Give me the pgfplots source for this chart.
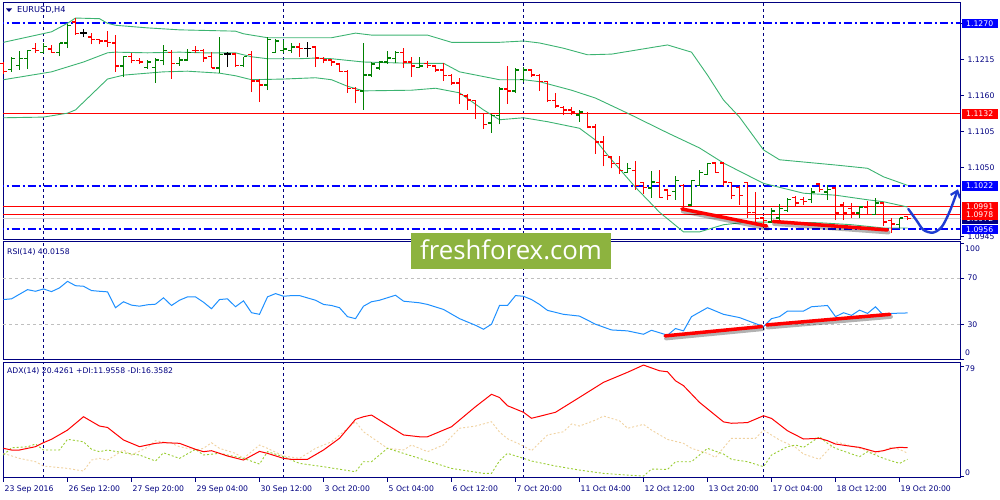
\documentclass[border=0pt]{standalone}
\usepackage{fontspec}
\setmainfont{DejaVu Sans}
\newfontfamily\wmfont{Open Sans}
\usepackage{graphicx}
\usepackage{pgfplots}
\usepackage{pgfplotstable}
\pgfplotsset{compat=1.18}
\usetikzlibrary{arrows.meta}

\definecolor{navy}{RGB}{0,0,128}
\definecolor{mtblue}{RGB}{0,0,255}
\definecolor{bbgreen}{RGB}{60,179,113}
\definecolor{barred}{RGB}{255,0,0}
\definecolor{bargreen}{RGB}{0,128,0}
\definecolor{rsiblue}{RGB}{30,144,255}
\definecolor{pdi}{RGB}{154,205,50}
\definecolor{mdi}{RGB}{240,210,160}
\definecolor{wm}{RGB}{141,179,63}
\definecolor{arrowblue}{RGB}{30,60,210}

% open tick to the left, close tick to the right
\pgfdeclareplotmark{otick}{\pgfpathmoveto{\pgfqpoint{-3.5pt}{0pt}}\pgfpathlineto{\pgfqpoint{0pt}{0pt}}\pgfusepathqstroke}
\pgfdeclareplotmark{ctick}{\pgfpathmoveto{\pgfqpoint{0pt}{0pt}}\pgfpathlineto{\pgfqpoint{3.5pt}{0pt}}\pgfusepathqstroke}

% EURUSD H4 bars, split by direction
\pgfplotstableread{
x o h l c
0 1.1209 1.1211 1.1193 1.1196
4 1.1232 1.1240 1.1225 1.1229
6 1.1231 1.1237 1.1225 1.1226
9 1.1272 1.1278 1.1252 1.1254
11 1.1249 1.1255 1.1238 1.1245
12 1.1245 1.1246 1.1238 1.1243
13 1.1243 1.1258 1.1234 1.1241
14 1.1240 1.1252 1.1196 1.1205
16 1.1219 1.1225 1.1209 1.1213
17 1.1213 1.1217 1.1208 1.1211
21 1.1225 1.1229 1.1185 1.1209
24 1.1229 1.1235 1.1225 1.1228
25 1.1228 1.1231 1.1211 1.1217
26 1.1219 1.1226 1.1202 1.1202
29 1.1223 1.1225 1.1203 1.1206
31 1.1222 1.1228 1.1165 1.1182
32 1.1182 1.1185 1.1150 1.1176
37 1.1234 1.1240 1.1219 1.1232
39 1.1234 1.1234 1.1203 1.1217
40 1.1216 1.1219 1.1209 1.1214
41 1.1214 1.1216 1.1205 1.1211
42 1.1208 1.1209 1.1196 1.1197
43 1.1197 1.1199 1.1164 1.1171
44 1.1171 1.1173 1.1148 1.1168
50 1.1226 1.1232 1.1202 1.1211
51 1.1211 1.1219 1.1188 1.1205
53 1.1209 1.1213 1.1202 1.1206
54 1.1205 1.1206 1.1196 1.1199
55 1.1199 1.1209 1.1182 1.1190
56 1.1190 1.1193 1.1176 1.1179
57 1.1179 1.1187 1.1147 1.1161
58 1.1159 1.1162 1.1138 1.1153
59 1.1152 1.1152 1.1124 1.1132
60 1.1132 1.1133 1.1109 1.1116
63 1.1170 1.1205 1.1147 1.1167
66 1.1199 1.1199 1.1188 1.1191
67 1.1190 1.1193 1.1167 1.1181
68 1.1181 1.1181 1.1150 1.1152
69 1.1152 1.1164 1.1141 1.1144
70 1.1142 1.1144 1.1130 1.1138
71 1.1138 1.1142 1.1130 1.1135
73 1.1133 1.1135 1.1110 1.1112
74 1.1112 1.1116 1.1071 1.1089
75 1.1089 1.1098 1.1052 1.1068
76 1.1066 1.1068 1.1049 1.1056
77 1.1056 1.1068 1.1040 1.1046
79 1.1046 1.1060 1.1016 1.1023
80 1.1027 1.1028 1.1010 1.1020
82 1.1027 1.1046 1.1004 1.1005
83 1.1016 1.1017 1.1001 1.1008
85 1.1023 1.1025 1.0985 1.0987
89 1.1057 1.1057 1.1042 1.1043
90 1.1057 1.1057 1.1022 1.1028
91 1.1027 1.1028 1.1002 1.1008
92 1.1020 1.1022 1.0993 1.1008
93 1.1027 1.1028 1.0973 1.0982
94 1.0982 1.1013 1.0966 1.0972
95 1.0973 1.0973 1.0963 1.0969
99 1.1004 1.1007 1.0990 1.0996
100 1.1001 1.1005 1.0993 1.0998
102 1.1025 1.1027 1.1013 1.1017
104 1.1019 1.1020 1.0970 1.0981
105 1.0993 1.0998 1.0970 1.0981
106 1.0988 1.0996 1.0973 1.0981
108 1.0990 1.0999 1.0978 1.0979
110 1.0996 1.0998 1.0961 1.0967
111 1.0969 1.0973 1.0950 1.0964
113 1.0975 1.0975 1.0970 1.0972
}\barsdown

\pgfplotstableread{
x o h l c
1 1.1200 1.1219 1.1196 1.1216
2 1.1206 1.1228 1.1199 1.1216
3 1.1216 1.1229 1.1200 1.1228
5 1.1226 1.1240 1.1225 1.1235
7 1.1226 1.1240 1.1220 1.1240
8 1.1240 1.1269 1.1232 1.1267
15 1.1205 1.1220 1.1188 1.1219
18 1.1203 1.1214 1.1200 1.1211
19 1.1203 1.1217 1.1179 1.1214
20 1.1213 1.1237 1.1206 1.1229
22 1.1209 1.1219 1.1205 1.1214
23 1.1214 1.1231 1.1214 1.1226
27 1.1202 1.1249 1.1194 1.1222
30 1.1206 1.1219 1.1203 1.1219
33 1.1176 1.1249 1.1168 1.1245
34 1.1226 1.1246 1.1225 1.1243
35 1.1229 1.1245 1.1225 1.1231
36 1.1229 1.1240 1.1225 1.1234
45 1.1167 1.1240 1.1138 1.1191
46 1.1191 1.1211 1.1188 1.1208
47 1.1202 1.1213 1.1199 1.1211
48 1.1211 1.1228 1.1208 1.1217
49 1.1216 1.1228 1.1209 1.1226
52 1.1203 1.1219 1.1202 1.1205
61 1.1118 1.1132 1.1103 1.1129
62 1.1129 1.1173 1.1116 1.1170
64 1.1167 1.1202 1.1164 1.1199
65 1.1184 1.1203 1.1181 1.1199
72 1.1130 1.1138 1.1120 1.1135
78 1.1043 1.1057 1.1043 1.1049
81 1.1019 1.1045 1.1004 1.1028
84 1.1014 1.1037 1.1001 1.1030
86 1.0993 1.1031 1.0992 1.1030
87 1.1023 1.1046 1.1022 1.1043
88 1.1040 1.1057 1.1039 1.1056
96 1.0967 1.0988 1.0966 1.0984
97 1.0973 1.0995 1.0970 1.0988
98 1.0985 1.1004 1.0982 1.1001
101 1.1001 1.1019 1.0996 1.1013
103 1.1013 1.1023 1.1001 1.1017
107 1.0981 1.0992 1.0973 1.0990
109 1.0979 1.1004 1.0978 1.0996
112 1.0963 1.0973 1.0958 1.0973
}\barsup

\pgfplotstableread{
x o h l c
10 1.1255 1.1261 1.1249 1.1255
28 1.1223 1.1226 1.1203 1.1223
38 1.1232 1.1241 1.1219 1.1232
}\barsdoji

\pgfplotsset{
  mtpanel/.style={
    scale only axis, width=957pt, anchor=south west,
    xmin=-0.0625, xmax=119.5625,
    axis line style={navy, line width=1pt},
    xtick=\empty,
    ytick pos=right, yticklabel pos=right,
    tick align=outside, major tick length=4pt,
    tick style={navy, line width=0.8pt},
    ticklabel style={font=\fontsize{7.7}{9}\selectfont, text=navy},
    extra x ticks={5,35,65,95}, extra x tick labels={},
    extra x tick style={major tick length=0pt, grid=major,
      major grid style={navy, line width=0.8pt, dash pattern=on 3pt off 3pt}},
    clip mode=individual,
  },
  level/.style={line width=1.1pt},
  mtdashdot/.style={color=mtblue, line width=1.8pt, dash pattern=on 8pt off 3pt on 2pt off 3pt},
  bb/.style={bbgreen, line width=0.9pt},
  trend/.style={barred, line width=3.5pt, line cap=round},
  tshadow/.style={black, opacity=0.3, line width=4pt, line cap=round, xshift=1pt, yshift=-2.5pt},
  % high-low wick as a vertical quiver arrow without tip
  ohlcwick/.style={color=#1, line width=1.3pt, quiver={u=0, v=\thisrow{h}-\thisrow{l},
    every arrow/.append style={color=#1, line width=1.3pt}}},
  ohlcopen/.style={color=#1, only marks, mark=otick, mark options={line width=1.3pt, color=#1}},
  ohlcclose/.style={color=#1, only marks, mark=ctick, mark options={line width=1.3pt, color=#1}},
}
\tikzset{
  pricebox/.style={anchor=west, xshift=1.5pt, inner sep=0pt, minimum width=36pt,
    minimum height=9.5pt, text=white, font=\fontsize{7.7}{9}\selectfont},
  lab/.style={anchor=west, inner sep=0pt, text=navy, font=\fontsize{7.7}{9}\selectfont},
}

\begin{document}
\begin{tikzpicture}
\useasboundingbox (0,0) rectangle (1000pt,500pt);

% ---------------- price panel ----------------
\begin{axis}[mtpanel, at={(3pt,260pt)}, height=237.5pt,
  ymin=1.09397, ymax=1.13017,
  ytick={1.0945,1.1050,1.1105,1.1160,1.1215,1.1270},
  yticklabels={1.0945,1.1050,1.1105,1.1160,1.1215,1.1270},
]
\addplot[mtdashdot] coordinates {(-1,1.1270) (121,1.1270)};
\addplot[mtdashdot] coordinates {(-1,1.1022) (121,1.1022)};
\addplot[mtdashdot] coordinates {(-1,1.0956) (121,1.0956)};
\addplot[level, barred] coordinates {(-1,1.1132) (121,1.1132)};
\addplot[level, barred] coordinates {(-1,1.0991) (121,1.0991)};
\addplot[level, barred] coordinates {(-1,1.0978) (121,1.0978)};
\addplot[level, black!18] coordinates {(-1,1.0972) (121,1.0972)};

% Bollinger bands
\addplot[bb] coordinates {(0,1.1241) (6,1.1257) (8,1.1270) (9,1.1278) (12,1.1277) (13,1.1270)
  (14,1.1267) (18,1.1263) (22,1.1260) (29,1.1258) (30,1.1254) (33,1.1248) (35,1.1248)
  (39,1.1248) (41,1.1248) (44,1.1255) (46,1.1252) (53,1.1252) (56,1.1241) (62,1.1241)
  (65,1.1243) (67,1.1240) (70,1.1232) (73,1.1222) (76,1.1223) (79,1.1229) (83,1.1237)
  (86,1.1226) (88,1.1191) (90,1.1153) (92,1.1127) (95,1.1077) (97,1.1062) (104,1.1054)
  (108,1.1049) (110,1.1036) (113,1.1023)};
\addplot[bb] coordinates {(0,1.1184) (6,1.1196) (10,1.1211) (13,1.1225) (14,1.1226) (18,1.1225)
  (22,1.1226) (25,1.1225) (29,1.1225) (31,1.1219) (33,1.1216) (37,1.1216) (39,1.1217)
  (41,1.1216) (45,1.1211) (51,1.1209) (55,1.1209) (57,1.1196) (62,1.1184) (65,1.1184)
  (67,1.1181) (71,1.1168) (74,1.1156) (78,1.1133) (83,1.1103) (87,1.1080) (90,1.1057)
  (95,1.1026) (100,1.1011) (104,1.1008) (108,1.1001) (110,1.0998) (113,1.0990)};
\addplot[bb] coordinates {(0,1.1126) (5,1.1127) (8,1.1133) (9,1.1138) (13,1.1185) (15,1.1191)
  (20,1.1196) (23,1.1197) (27,1.1194) (29,1.1190) (31,1.1184) (35,1.1185) (39,1.1187)
  (41,1.1184) (43,1.1174) (45,1.1167) (51,1.1168) (54,1.1171) (57,1.1164) (60,1.1138)
  (62,1.1123) (65,1.1126) (68,1.1120) (72,1.1110) (74,1.1092) (76,1.1062) (79,1.1020)
  (82,1.0982) (85,1.0952) (87,1.0952) (90,1.0963) (93,1.0967) (95,1.0967) (102,1.0966)
  (106,1.0963) (110,1.0958) (113,1.0958)};

% bars: down (red), up (green), doji (black)
\addplot[ohlcwick=black] table[x=x, y=l] {\barsdoji};
\addplot[ohlcopen=black] table[x=x, y=o] {\barsdoji};
\addplot[ohlcclose=black] table[x=x, y=c] {\barsdoji};
\addplot[ohlcwick=barred] table[x=x, y=l] {\barsdown};
\addplot[ohlcopen=barred] table[x=x, y=o] {\barsdown};
\addplot[ohlcclose=barred] table[x=x, y=c] {\barsdown};
\addplot[ohlcwick=bargreen] table[x=x, y=l] {\barsup};
\addplot[ohlcopen=bargreen] table[x=x, y=o] {\barsup};
\addplot[ohlcclose=bargreen] table[x=x, y=c] {\barsup};

% hand-drawn trend lines and forecast arrow
\addplot[tshadow] coordinates {(84.8,1.0987) (95.4,1.0961)};
\addplot[tshadow] coordinates {(96.2,1.0968) (110.5,1.0955)};
\addplot[trend] coordinates {(84.8,1.0987) (95.4,1.0961)};
\addplot[trend] coordinates {(96.2,1.0968) (110.5,1.0955)};
\addplot[arrowblue, line width=2.4pt, smooth, line cap=round,
  -{Straight Barb[length=6pt, width=10pt, line width=2.2pt]}]
  coordinates {(113.1,1.0987) (114.1,1.0970) (115.0,1.0955) (116.2,1.0951) (117.3,1.0960)
  (118.3,1.0984) (119.3,1.1017)};

\coordinate (p1270) at (axis cs:119.5625,1.1270);
\coordinate (p1132) at (axis cs:119.5625,1.1132);
\coordinate (p1022) at (axis cs:119.5625,1.1022);
\coordinate (p0991) at (axis cs:119.5625,1.0991);
\coordinate (p0978) at (axis cs:119.5625,1.0978);
\coordinate (p0972) at (axis cs:119.5625,1.0972);
\coordinate (p0956) at (axis cs:119.5625,1.0956);
\end{axis}

% ---------------- RSI panel ----------------
\begin{axis}[mtpanel, at={(3pt,140pt)}, height=118pt,
  ymin=-0.4, ymax=100.9,
  ytick={0,30,70,100}, yticklabels={,30,70,},
  extra y ticks={30,70}, extra y tick labels={},
  extra y tick style={grid=major, major grid style={black!25, line width=0.8pt, dash pattern=on 3pt off 3pt}},
]
\addplot[rsiblue, line width=1pt] coordinates {(0,51.5) (1,52.1) (3,60.0) (4,58.6) (5,60.6)
  (6,58.3) (7,61.5) (8,67.1) (9,63.4) (10,62.9) (11,59.2) (12,58.6) (13,58.1) (14,44.5)
  (15,49.6) (16,46.7) (17,45.8) (18,47.0) (19,47.5) (20,53.0) (21,46.4) (22,50.9) (23,53.8)
  (24,53.8) (25,49.2) (26,43.6) (27,51.5) (28,52.1) (29,45.3) (30,50.4) (31,40.2) (32,38.8)
  (33,53.8) (34,56.6) (35,54.3) (36,54.9) (37,54.9) (39,50.9) (40,47.3) (41,46.4) (42,44.5)
  (43,36.8) (44,35.1) (45,45.8) (46,49.6) (47,50.9) (49,55.2) (50,50.1) (52,48.7) (53,47.3)
  (55,43.0) (57,35.1) (59,29.4) (60,26.0) (61,30.3) (62,46.4) (63,46.4) (64,54.9) (65,54.3)
  (66,51.5) (67,47.3) (68,42.2) (70,38.8) (72,37.3) (74,30.3) (76,25.4) (78,24.6) (80,21.7)
  (81,25.1) (83,20.9) (84,26.6) (85,24.6) (86,36.8) (88,44.5) (90,38.8) (92,36.0) (95,28.3)
  (96,35.1) (97,36.8) (98,41.6) (100,41.6) (101,45.3) (103,46.4) (104,36.8) (105,40.2)
  (106,37.9) (107,42.4) (108,39.6) (109,45.3) (110,37.9) (111,39.6) (113,40.0)};
\addplot[tshadow] coordinates {(82.7,20.3) (94.8,28.3)};
\addplot[tshadow] coordinates {(95.4,29.7) (110.8,38.8)};
\addplot[trend] coordinates {(82.7,20.3) (94.8,28.3)};
\addplot[trend] coordinates {(95.4,29.7) (110.8,38.8)};
\end{axis}

% ---------------- ADX panel ----------------
\begin{axis}[mtpanel, at={(3pt,22pt)}, height=116pt,
  ymin=-1.4, ymax=81.9,
  ytick={0,79}, yticklabels={,},
  xtick={0,8,...,112}, xtick pos=bottom,
  xticklabels={23 Sep 2016, 26 Sep 12:00, 27 Sep 20:00, 29 Sep 04:00, 30 Sep 12:00,
    3 Oct 20:00, 5 Oct 04:00, 6 Oct 12:00, 7 Oct 20:00, 11 Oct 04:00, 12 Oct 12:00,
    13 Oct 20:00, 17 Oct 04:00, 18 Oct 12:00, 19 Oct 20:00},
  xticklabel style={anchor=north west, inner xsep=1pt},
]
\addplot[mdi, line width=0.9pt, dash pattern=on 2pt off 2pt] coordinates {(0,16.3) (2,12.7)
  (4,10.3) (5,7.2) (8,5.5) (10,3.6) (11,11.5) (12,12.7) (13,11.5) (15,18.7) (16,15.1) (18,20.6)
  (19,25.4) (21,23.5) (22,21.1) (24,18.7) (25,19.9) (26,23.9) (27,19.9) (29,16.3) (30,12.7)
  (32,22.3) (33,19.9) (35,14.4) (37,12.7) (39,19.9) (41,24.6) (44,39.0) (45,31.8) (48,19.9)
  (50,18.7) (51,22.3) (53,17.5) (55,22.3) (57,34.3) (59,35.9) (61,39.0) (62,31.6) (63,26.8)
  (65,21.6) (66,18.2) (68,29.5) (70,31.8) (71,37.4) (72,35.9) (74,40.2) (75,43.1) (77,39.7)
  (78,34.3) (80,37.1) (81,33.0) (83,26.3) (85,23.5) (86,19.9) (88,16.3) (89,13.4) (91,27.1)
  (94,27.1) (95,33.0) (97,25.9) (99,20.6) (100,15.8) (102,12.0) (104,24.6) (106,21.6)
  (107,19.9) (109,16.3) (111,20.6) (112,19.2) (113,16.4)};
\addplot[pdi, line width=0.9pt, dash pattern=on 2pt off 2pt] coordinates {(0,15.1) (1,20.3)
  (3,21.0) (4,23.0) (5,18.7) (7,18.7) (8,26.4) (10,24.6) (11,19.2) (12,17.5) (13,18.7)
  (15,16.7) (17,15.1) (19,10.8) (20,16.7) (22,12.7) (24,19.2) (25,15.1) (27,16.3) (29,13.9)
  (30,12.7) (32,8.6) (33,17.5) (35,13.9) (37,9.1) (40,6.7) (44,3.1) (45,10.3) (46,10.3)
  (48,19.9) (50,16.3) (54,9.1) (56,5.5) (60,1.9) (61,1.9) (62,11.0) (63,16.3) (65,12.7)
  (66,10.8) (69,7.2) (72,4.3) (75,1.9) (78,0.7) (80,0.0) (81,5.0) (83,4.8) (84,10.3)
  (86,10.3) (88,19.9) (90,15.8) (91,12.0) (93,10.3) (95,6.7) (96,15.1) (98,21.1) (99,22.3)
  (100,20.6) (102,28.2) (103,23.5) (104,19.9) (107,13.9) (108,17.5) (110,12.7) (112,9.1)
  (113,12.0)};
\addplot[barred, line width=1pt] coordinates {(0,19.9) (1,18.7) (2,18.7) (4,21.1) (5,24.0)
  (6,26.4) (8,33.0) (10,42.6) (12,35.9) (13,34.9) (15,25.9) (17,21.1) (19,23.5) (20,24.0)
  (22,23.5) (24,19.2) (25,17.5) (26,18.2) (28,14.4) (30,11.5) (32,17.7) (33,16.3) (35,12.7)
  (36,12.0) (38,12.0) (40,18.7) (42,27.1) (44,40.7) (45,42.6) (46,43.8) (47,40.2) (50,29.5)
  (52,28.2) (53,28.2) (56,35.4) (59,49.8) (61,58.7) (62,56.4) (63,50.5) (65,45.8) (66,41.5)
  (67,42.9) (69,45.8) (72,56.5) (75,67.3) (78,74.5) (80,79.7) (82,75.6) (83,74.9) (84,68.4)
  (85,64.9) (87,52.9) (90,38.9) (91,37.9) (93,38.4) (95,43.3) (96,41.4) (98,32.5) (100,26.6)
  (102,27.1) (103,25.4) (104,23.0) (106,21.3) (107,20.6) (109,17.4) (110,18.2) (111,19.9)
  (112,20.6) (113,20.4)};
\end{axis}

% ---------------- labels on the right ----------------
\node[pricebox, fill=mtblue] at (p1270) {1.1270};
\node[pricebox, fill=barred] at (p1132) {1.1132};
\node[pricebox, fill=mtblue] at (p1022) {1.1022};
\node[pricebox, fill=navy] at (p0972) {1.0972};
\node[pricebox, fill=barred] at (p0991) {1.0991};
\node[pricebox, fill=barred] at (p0978) {1.0978};
\node[pricebox, fill=mtblue] at (p0956) {1.0956};
\node[lab] at (965pt,251pt) {100};
\node[lab] at (965pt,147pt) {0};
\node[lab] at (965pt,131pt) {79};
\node[lab] at (965pt,27pt) {0};

% ---------------- window titles ----------------
\fill[navy] (6pt,491.5pt) -- (12pt,491.5pt) -- (9pt,488pt) -- cycle;
\node[lab, font=\fontsize{8.2}{9}\selectfont] at (17pt,490pt) {EURUSD,H4};
\node[lab] at (7pt,248pt) {RSI(14) 40.0158};
\node[lab] at (7pt,129pt) {ADX(14) 20.4261 +DI:11.9558 -DI:16.3582};

% ---------------- watermark ----------------
\fill[wm] (411pt,230.7pt) rectangle (611pt,266.7pt);
\node[anchor=base, inner sep=0pt, text=white] at (511pt,240pt)
  {\resizebox{182pt}{!}{\fontsize{26}{26}\wmfont freshforex.com}};
\end{tikzpicture}
\end{document}
